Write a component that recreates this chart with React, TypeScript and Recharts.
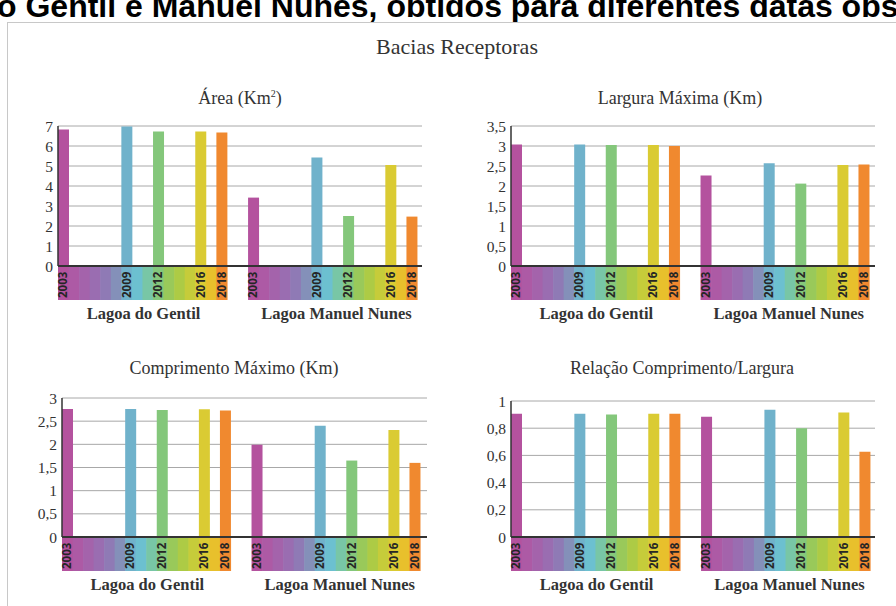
import React from 'react';
import { BarChart, Bar, XAxis, YAxis, CartesianGrid, Cell } from 'recharts';

const YEARS = [2003, 2004, 2005, 2006, 2007, 2008, 2009, 2010, 2011, 2012, 2013, 2014, 2015, 2016, 2017, 2018];
const OBSERVED_YEARS = [2003, 2009, 2012, 2016, 2018];
const LAKES = ['Lagoa do Gentil', 'Lagoa Manuel Nunes'];
const GAP_SLOTS = 2;

const AREA_GENTIL = [6.82, 6.98, 6.72, 6.73, 6.68];
const AREA_MANUEL = [3.42, 5.43, 2.5, 5.05, 2.47];
const LARGURA_GENTIL = [3.04, 3.04, 3.025, 3.025, 3.0];
const LARGURA_MANUEL = [2.26, 2.57, 2.06, 2.525, 2.54];
const COMPRIMENTO_GENTIL = [2.76, 2.76, 2.74, 2.755, 2.73];
const COMPRIMENTO_MANUEL = [1.99, 2.4, 1.65, 2.31, 1.6];
const RELACAO_GENTIL = [0.907, 0.907, 0.9, 0.907, 0.907];
const RELACAO_MANUEL = [0.885, 0.936, 0.8, 0.916, 0.627];

const AREA_TICKS = [0, 1, 2, 3, 4, 5, 6, 7];
const LARGURA_TICKS = [0, 0.5, 1, 1.5, 2, 2.5, 3, 3.5];
const COMPRIMENTO_TICKS = [0, 0.5, 1, 1.5, 2, 2.5, 3];
const RELACAO_TICKS = [0, 0.2, 0.4, 0.6, 0.8, 1];

const MAIN_TITLE = 'Bacias Receptoras';
const HEADER_TEXT = 'o Gentil e Manuel Nunes, obtidos para diferentes datas obs';

const YEAR_COLORS = [
  '#b4529e', '#ad5aa5', '#a463ab', '#9a6db1', '#8f7ab5', '#8490b9',
  '#70b2cb', '#6cc0d0', '#78c6a6', '#84c77b', '#99c95a', '#adcb45',
  '#c6cc3a', '#dacb33', '#e8c02c', '#f0892f',
];

type Row = {
  key: string;
  year: number | null;
  slot: number;
  lake: number;
  value: number | null;
  groupLabel: string | null;
};

function buildRows(gentil: number[], manuel: number[]): Row[] {
  const rows: Row[] = [];
  [gentil, manuel].forEach((vals, li) => {
    if (li > 0) {
      for (let g = 0; g < GAP_SLOTS; g++) {
        rows.push({ key: `gap-${g}`, year: null, slot: -1, lake: -1, value: null, groupLabel: null });
      }
    }
    YEARS.forEach((y, si) => {
      const oi = OBSERVED_YEARS.indexOf(y);
      rows.push({
        key: `${li}-${y}`,
        year: y,
        slot: si,
        lake: li,
        value: oi >= 0 ? vals[oi] : null,
        groupLabel: si === 7 ? LAKES[li] : null,
      });
    });
  });
  return rows;
}

const fmt = (v: number) => String(v).replace('.', ',');

type PanelProps = {
  left: number;
  top: number;
  plotWidth: number;
  plotHeight: number;
  padRight: number;
  rows: Row[];
  ticks: number[];
};

const BAND_H = 33;
const Y_AXIS_W = 50;
const MARGIN_TOP = 10;
const X_AXIS_H = 66;
const SERIF = "'Liberation Serif', 'Times New Roman', serif";

function Panel({ left, top, plotWidth, plotHeight, padRight, rows, ticks }: PanelProps) {
  const band = (plotWidth - padRight) / rows.length;
  const half = band / 2;
  const width = Y_AXIS_W + plotWidth;
  const height = MARGIN_TOP + plotHeight + X_AXIS_H;
  const renderTick = (props: any) => {
    const { x, y, payload } = props;
    const row = rows.find((r) => r.key === payload.value);
    if (!row || row.year === null) return <g />;
    const color = YEAR_COLORS[row.slot];
    const labeled = OBSERVED_YEARS.includes(row.year);
    return (
      <g>
        <rect x={x - half} y={y + 1} width={band + 0.6} height={BAND_H} fill={color} />
        {labeled && (
          <text
            x={x + 4}
            y={y + BAND_H - 1}
            transform={`rotate(-90, ${x + 4}, ${y + BAND_H - 1})`}
            textAnchor="start"
            fontFamily="'Open Sans', 'Noto Sans', sans-serif"
            fontWeight={700}
            fontSize={11.5}
            fill="#262626"
          >
            {row.year}
          </text>
        )}
        {row.groupLabel && (
          <text
            x={x + half + (row.lake === 1 ? 4 : 1)}
            y={y + BAND_H + 20}
            textAnchor="middle"
            fontFamily={SERIF}
            fontWeight={700}
            fontSize={16.5}
            fill="#333"
          >
            {row.groupLabel}
          </text>
        )}
      </g>
    );
  };
  return (
    <div style={{ position: 'absolute', left, top }}>
      <BarChart
        width={width}
        height={height}
        data={rows}
        margin={{ top: MARGIN_TOP, right: 0, bottom: 0, left: 0 }}
        barCategoryGap={0}
        barGap={0}
      >
        <CartesianGrid vertical={false} stroke="#a8a8a8" strokeWidth={1} />
        <XAxis
          dataKey="key"
          interval={0}
          tickLine={false}
          tickSize={0}
          tickMargin={0}
          height={X_AXIS_H}
          padding={{ left: 0, right: padRight }}
          axisLine={{ stroke: '#333', strokeWidth: 2 }}
          tick={renderTick}
        />
        <YAxis
          type="number"
          domain={[0, ticks[ticks.length - 1]]}
          ticks={ticks}
          interval={0}
          width={Y_AXIS_W}
          tickLine={false}
          tickSize={0}
          tickMargin={5}
          axisLine={{ stroke: '#333', strokeWidth: 1.5 }}
          tick={{ fill: '#333', fontSize: 15.5, fontFamily: SERIF }}
          tickFormatter={fmt}
        />
        <Bar dataKey="value" isAnimationActive={false}>
          {rows.map((r) => (
            <Cell key={r.key} fill={r.year !== null ? YEAR_COLORS[r.slot] : 'none'} />
          ))}
        </Bar>
      </BarChart>
    </div>
  );
}

const AREA_ROWS = buildRows(AREA_GENTIL, AREA_MANUEL);
const LARGURA_ROWS = buildRows(LARGURA_GENTIL, LARGURA_MANUEL);
const COMPRIMENTO_ROWS = buildRows(COMPRIMENTO_GENTIL, COMPRIMENTO_MANUEL);
const RELACAO_ROWS = buildRows(RELACAO_GENTIL, RELACAO_MANUEL);

const PANEL_TITLES = ['Área (Km', 'Largura Máxima (Km)', 'Comprimento Máximo (Km)', 'Relação Comprimento/Largura'];

export default function App() {
  return (
    <div
      style={{
        position: 'absolute',
        left: 0,
        top: 0,
        width: 896,
        height: 606,
        overflow: 'hidden',
        background: '#fff',
      }}
    >
      <svg width={896} height={606} style={{ position: 'absolute', left: 0, top: 0 }}>
        <text
          x={-3}
          y={17}
          fontFamily="'Liberation Sans', Arial, sans-serif"
          fontWeight={700}
          fontSize={32}
          fill="#000"
        >
          {HEADER_TEXT}
        </text>
        <rect x={7.5} y={22.5} width={1000} height={700} fill="#fff" stroke="#c8c8c8" strokeWidth={1} />
        <text x={457} y={54} textAnchor="middle" fontFamily={SERIF} fontSize={22} fill="#333">
          {MAIN_TITLE}
        </text>
        <text x={240} y={104} textAnchor="middle" fontFamily={SERIF} fontSize={18} fill="#333">
          {PANEL_TITLES[0]}
          <tspan fontSize={10} dy={-7}>2</tspan>
          <tspan dy={7}>)</tspan>
        </text>
        <text x={680} y={104} textAnchor="middle" fontFamily={SERIF} fontSize={18} fill="#333">
          {PANEL_TITLES[1]}
        </text>
        <text x={234} y={374} textAnchor="middle" fontFamily={SERIF} fontSize={18} fill="#333">
          {PANEL_TITLES[2]}
        </text>
        <text x={682} y={374} textAnchor="middle" fontFamily={SERIF} fontSize={18} fill="#333">
          {PANEL_TITLES[3]}
        </text>
      </svg>
      <Panel left={8} top={116} plotWidth={364} plotHeight={140} padRight={5} rows={AREA_ROWS} ticks={AREA_TICKS} />
      <Panel left={461} top={116} plotWidth={364} plotHeight={140} padRight={6} rows={LARGURA_ROWS} ticks={LARGURA_TICKS} />
      <Panel left={12} top={388} plotWidth={365} plotHeight={139} padRight={7} rows={COMPRIMENTO_ROWS} ticks={COMPRIMENTO_TICKS} />
      <Panel left={461} top={391} plotWidth={364} plotHeight={136} padRight={5} rows={RELACAO_ROWS} ticks={RELACAO_TICKS} />
    </div>
  );
}
